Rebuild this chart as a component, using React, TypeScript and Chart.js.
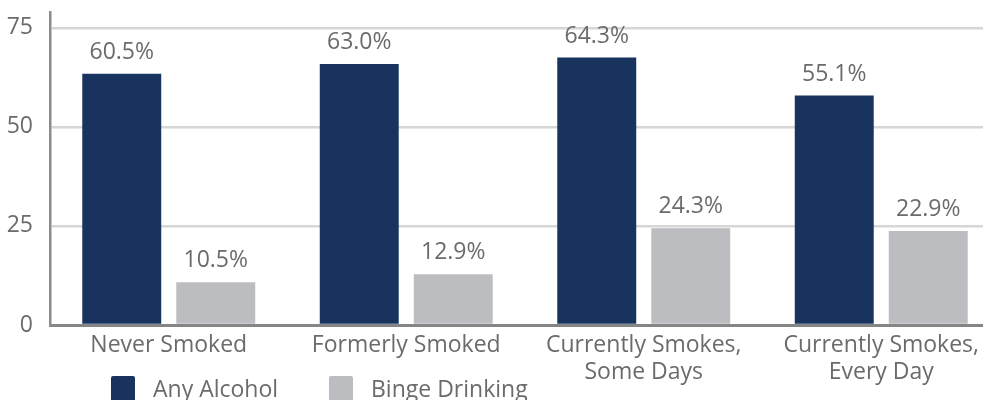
import React, { useEffect, useRef } from "react";
import { Chart, registerables } from "chart.js";

Chart.register(...registerables);

const categories: (string | string[])[] = [
  "Never Smoked",
  "Formerly Smoked",
  ["Currently Smokes,", "Some Days"],
  ["Currently Smokes,", "Every Day"],
];
const seriesNames = ["Any Alcohol", "Binge Drinking"];
const anyAlcohol = [63.4, 65.9, 67.5, 57.9];
const bingeDrinking = [10.8, 12.8, 24.4, 23.7];
const anyAlcoholLabels = ["60.5%", "63.0%", "64.3%", "55.1%"];
const bingeDrinkingLabels = ["10.5%", "12.9%", "24.3%", "22.9%"];
const yTicks = [0, 25, 50, 75];

const NAVY = "#17335e";
const GRAY = "#bcbdc0";
const TEXT = "#6b6b6b";
const FONT = "'Open Sans', 'DejaVu Sans', sans-serif";

const valueLabels = [anyAlcoholLabels, bingeDrinkingLabels];

const dataLabelPlugin = {
  id: "dataLabels",
  afterDatasetsDraw(chart: any) {
    const ctx = chart.ctx;
    ctx.save();
    ctx.font = `23px ${FONT}`;
    ctx.fillStyle = TEXT;
    ctx.textAlign = "center";
    ctx.textBaseline = "alphabetic";
    chart.data.datasets.forEach((ds: any, di: number) => {
      const meta = chart.getDatasetMeta(di);
      meta.data.forEach((el: any, i: number) => {
        ctx.fillText(valueLabels[di][i], el.x, el.y - 15);
      });
    });
    ctx.restore();
  },
};

const legendPlugin = {
  id: "customLegend",
  afterDraw(chart: any) {
    const ctx = chart.ctx;
    const xs = [111, 329];
    ctx.save();
    ctx.font = `23px ${FONT}`;
    ctx.textBaseline = "alphabetic";
    ctx.textAlign = "left";
    chart.data.datasets.forEach((ds: any, di: number) => {
      const x = xs[di];
      ctx.fillStyle = ds.backgroundColor;
      ctx.beginPath();
      (ctx as any).roundRect(x, 376, 24, 26, 2);
      ctx.fill();
      ctx.fillStyle = TEXT;
      ctx.fillText(ds.label, x + 42, 397);
    });
    ctx.restore();
  },
};

export default function App() {
  const ref = useRef<HTMLCanvasElement | null>(null);

  useEffect(() => {
    if (!ref.current) return;
    const chart = new Chart(ref.current, {
      type: "bar",
      data: {
        labels: categories,
        datasets: [
          {
            label: seriesNames[0],
            data: anyAlcohol,
            backgroundColor: NAVY,
            categoryPercentage: 0.7916,
            barPercentage: 0.84,
          },
          {
            label: seriesNames[1],
            data: bingeDrinking,
            backgroundColor: GRAY,
            categoryPercentage: 0.7916,
            barPercentage: 0.84,
          },
        ],
      },
      options: {
        responsive: false,
        animation: false,
        devicePixelRatio: 1,
        layout: { padding: { left: 7, top: 12, right: 10, bottom: 0 } },
        plugins: {
          legend: { display: false },
          tooltip: { enabled: false },
          title: { display: false },
        },
        scales: {
          x: {
            grid: { display: false, drawTicks: false },
            border: { display: true, color: "#858585", width: 3 },
            ticks: {
              color: TEXT,
              font: { family: FONT, size: 23, lineHeight: 1.17 },
              padding: 7,
              maxRotation: 0,
              autoSkip: false,
            },
            afterFit(scale: any) {
              scale.height = 75;
              scale.paddingLeft = 0;
              scale.paddingRight = 0;
            },
          },
          y: {
            min: 0,
            max: 79,
            grid: {
              color: (c: any) => (c.tick && c.tick.value === 0 ? "rgba(0,0,0,0)" : "#d6d6d6"),
              lineWidth: 2.5,
              drawTicks: false,
            },
            border: { display: true, color: "#8c8c8c", width: 2.5 },
            ticks: {
              color: TEXT,
              font: { family: FONT, size: 23 },
              padding: 17,
              includeBounds: false,
            },
            afterBuildTicks(scale: any) {
              scale.ticks = yTicks.map((v) => ({ value: v }));
            },
            afterFit(scale: any) {
              scale.width = 43;
              scale.paddingTop = 0;
              scale.paddingBottom = 0;
            },
          },
        },
      },
      plugins: [dataLabelPlugin, legendPlugin],
    });
    return () => chart.destroy();
  }, []);

  return (
    <div
      style={{
        position: "absolute",
        left: 0,
        top: 0,
        width: 983,
        height: 400,
        overflow: "hidden",
        background: "#ffffff",
      }}
    >
      <canvas ref={ref} width={1010} height={400} style={{ width: 1010, height: 400, display: "block" }} />
    </div>
  );
}
